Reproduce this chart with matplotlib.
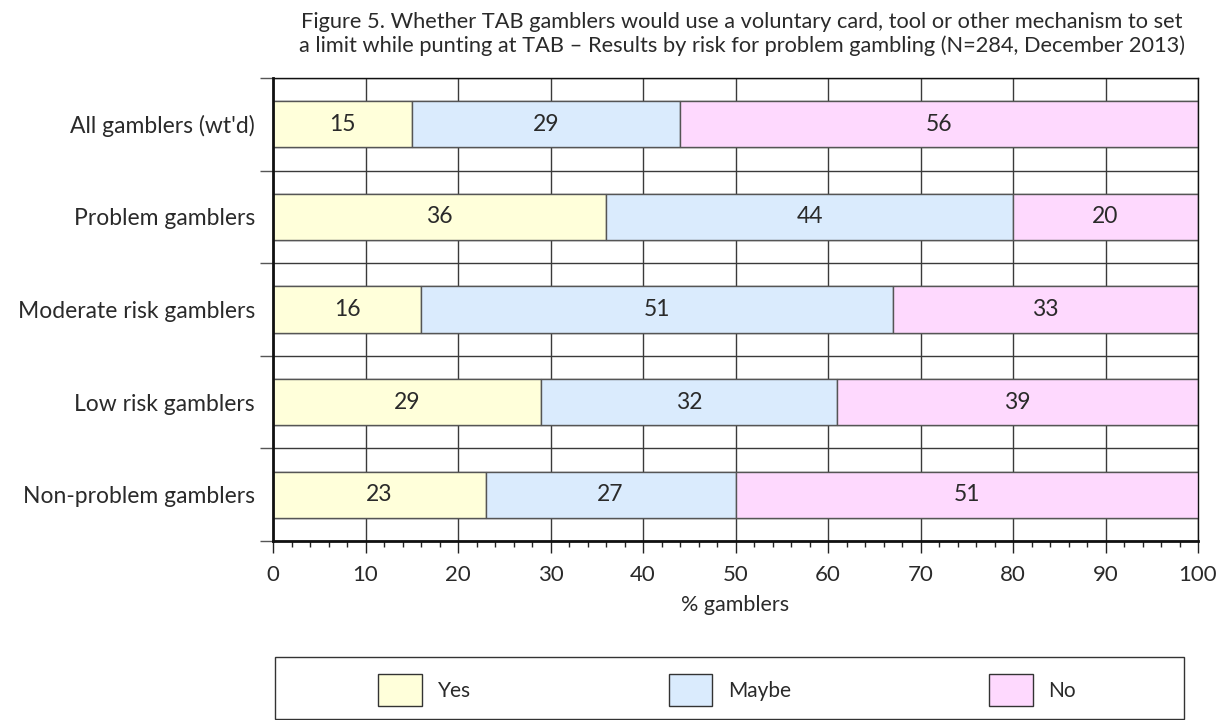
import numpy as np
import matplotlib
matplotlib.use("Agg")
import matplotlib.pyplot as plt
from matplotlib.patches import Patch, Rectangle

plt.rcParams['font.family'] = ['Lato', 'DejaVu Sans']

categories = ["All gamblers (wt'd)", "Problem gamblers", "Moderate risk gamblers",
              "Low risk gamblers", "Non-problem gamblers"]
yes = [15, 36, 16, 29, 23]
maybe = [29, 44, 51, 32, 27]
no = [56, 20, 33, 39, 51]
series_names = ["Yes", "Maybe", "No"]
colors = ["#FFFFDA", "#DAEBFD", "#FED9FE"]

title = ("Figure 5. Whether TAB gamblers would use a voluntary card, tool or other mechanism to set\n"
         "a limit while punting at TAB \u2013 Results by risk for problem gambling (N=284, December 2013)")

txt = "#2a2a2a"
line = "#3a3a3a"

fig = plt.figure(figsize=(12.28, 7.2), dpi=100)
ax = fig.add_axes([273 / 1228, 1 - 541 / 720, 925 / 1228, 463 / 720])

ys = np.arange(len(categories))
h = 0.5

# quarter grid lines between bars
for y in ys:
    ax.hlines([y - 0.25, y + 0.25], 0, 100, color=line, lw=1, zorder=1)

left = np.zeros(len(categories))
for vals, col in zip([yes, maybe, no], colors):
    vals = np.array(vals)
    bars = ax.barh(ys, vals, height=h, left=left, color=col, edgecolor="#555555",
                   linewidth=1, zorder=2)
    ax.bar_label(bars, labels=[str(v) for v in vals], label_type="center",
                 fontsize=16.5, color=txt)
    left = left + vals

ax.set_xlim(0, 100)
ax.set_ylim(4.5, -0.5)

ax.set_xticks(np.arange(0, 101, 10))
ax.set_xticks(np.arange(0, 101, 2), minor=True)
ax.tick_params(axis="x", which="major", direction="out", length=8.6, width=1,
               color="#222222", labelsize=16, labelcolor=txt, pad=9)
ax.tick_params(axis="x", which="minor", direction="out", length=4.3, width=1,
               color="#222222")

ax.set_yticks(np.arange(-0.5, 4.6, 1))
ax.set_yticklabels([])
ax.set_yticks(ys, labels=categories, minor=True)
ax.tick_params(axis="y", which="major", direction="out", length=9.4, width=1,
               color="#555555")
ax.tick_params(axis="y", which="minor", length=0, labelsize=16.5, labelcolor=txt, pad=13)

ax.grid(True, axis="x", which="major", color=line, lw=1, zorder=0)
ax.grid(True, axis="y", which="major", color=line, lw=1, zorder=0)
ax.set_axisbelow(True)

ax.spines["left"].set_linewidth(2)
ax.spines["bottom"].set_linewidth(2)
ax.spines["right"].set_linewidth(1)
ax.spines["top"].set_linewidth(1)
for s in ax.spines.values():
    s.set_color("#111111")

ax.set_xlabel("% gamblers", fontsize=15.5, color=txt, labelpad=7)

fig.text(742 / 1228, 1 - 12 / 720, title, ha="center", va="top", fontsize=15.7,
         color=txt, linespacing=1.2)

handles = [Patch(facecolor=c, edgecolor="#333333", lw=1) for c in colors]
fig.legend(handles, series_names, loc="center", bbox_to_anchor=(727 / 1228, 1 - 690 / 720),
           ncol=3, frameon=False, fontsize=15, handlelength=2.1, handleheight=2.05,
           handletextpad=0.75, columnspacing=9.5, labelcolor=txt)
fig.add_artist(Rectangle((275 / 1228, 1 - 719 / 720), 909 / 1228, 62 / 720,
                         transform=fig.transFigure, fill=False, edgecolor="#333333", lw=1))

fig.savefig("out.png", dpi=100)
